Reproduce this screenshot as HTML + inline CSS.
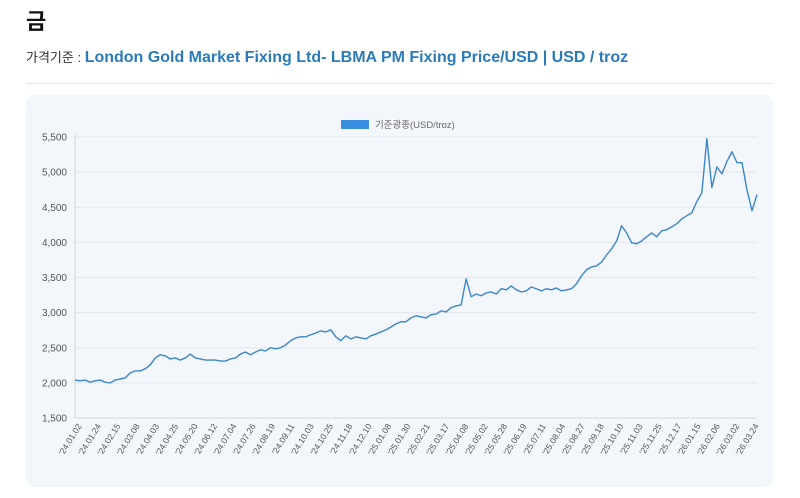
<!DOCTYPE html>
<html><head><meta charset="utf-8"><style>
body{margin:0;width:800px;height:498px;background:#fff;font-family:"Liberation Sans","Noto Sans CJK KR",sans-serif;position:relative;overflow:hidden}
.t{position:absolute;left:26px;top:4px;font-size:22px;font-weight:bold;color:#111}
.s{position:absolute;left:26px;top:47px;font-size:13px;color:#333}
.s b{color:#2b7bb9;font-size:16px}
.hr{position:absolute;left:26px;top:83px;width:747px;height:1px;background:#e6e6e6}
.card{position:absolute;left:26px;top:95px;width:747px;height:392px;background:#f3f6fa;border-radius:8px}
svg{position:absolute;left:0;top:0}
</style></head><body>
<div class="t">금</div>
<div class="s">가격기준 : <b>London Gold Market Fixing Ltd- LBMA PM Fixing Price/USD | USD / troz</b></div>
<div class="hr"></div>
<div class="card"></div>
<svg id="c" width="800" height="498"></svg>
<script>
const yTicks=[1500,2000,2500,3000,3500,4000,4500,5000,5500];
const xLabels=["'24.01.02","'24.01.24","'24.02.15","'24.03.08","'24.04.03","'24.04.25","'24.05.20","'24.06.12","'24.07.04","'24.07.26","'24.08.19","'24.09.11","'24.10.03","'24.10.25","'24.11.18","'24.12.10","'25.01.08","'25.01.30","'25.02.21","'25.03.17","'25.04.08","'25.05.02","'25.05.28","'25.06.19","'25.07.11","'25.08.04","'25.08.27","'25.09.18","'25.10.10","'25.11.03","'25.11.25","'25.12.17","'26.01.15","'26.02.06","'26.03.02","'26.03.24"];
const prices=[2040,2030,2040,2010,2030,2040,2010,1999,2040,2055,2070,2140,2170,2170,2200,2255,2355,2400,2385,2340,2355,2325,2355,2410,2355,2340,2325,2325,2325,2310,2310,2340,2355,2410,2440,2400,2440,2470,2455,2500,2485,2500,2540,2600,2640,2655,2655,2685,2710,2740,2725,2755,2655,2600,2670,2625,2655,2640,2625,2670,2695,2725,2755,2795,2840,2870,2870,2925,2955,2940,2925,2970,2980,3025,3010,3070,3095,3110,3480,3225,3265,3240,3280,3295,3265,3340,3325,3380,3325,3295,3310,3365,3340,3310,3340,3325,3350,3310,3325,3340,3410,3525,3610,3650,3665,3720,3820,3910,4020,4235,4135,3995,3980,4020,4080,4135,4080,4165,4180,4220,4265,4335,4380,4420,4580,4705,5475,4780,5075,4975,5150,5290,5135,5135,4750,4450,4680];
</script>
<script>
const NS="http://www.w3.org/2000/svg",svg=document.getElementById('c');
const X0=75,X1=757,Y0=418,Y1=137;
const yS=v=>Y0-(v-1500)/4000*(Y0-Y1);
const xS=i=>X0+i*(X1-X0)/(prices.length-1);
const lx=i=>82+i*(759-82)/(xLabels.length-1);
function mk(t,a){const e=document.createElementNS(NS,t);for(const k in a)e.setAttribute(k,a[k]);svg.appendChild(e);return e;}
yTicks.forEach(v=>{
 const g=mk('line',{x1:X0,x2:X1,y1:yS(v),y2:yS(v),stroke:v===1500?'#d4d8dd':'#e3e7ec','stroke-width':1});
 
 
 const t=mk('text',{x:67,y:yS(v)+3.5,'text-anchor':'end','font-size':10,fill:'#555'});
 t.textContent=v.toLocaleString('en-US');
 
 
});
const ax=mk('line',{x1:X0,x2:X0,y1:Y1-3,y2:Y0,stroke:'#d4d8dd'});


xLabels.forEach((s,i)=>{
 const t=mk('text',{x:lx(i),y:426,'text-anchor':'end','font-size':8.6,fill:'#555',transform:`rotate(-58 ${lx(i)} 426)`});
 t.textContent=s;
 
 
});
const p=mk('polyline',{points:prices.map((v,i)=>xS(i)+','+yS(v)).join(' '),fill:'none',stroke:'#3b87c8','stroke-width':1.4,'stroke-linejoin':'round'});


const lb=mk('rect',{x:341,y:120,width:28,height:9,fill:'#3a8ee0'});


const lt=mk('text',{x:375,y:128,'font-size':9.5,fill:'#666'});
lt.textContent='기준광종(USD/troz)';


</script>
</body></html>
